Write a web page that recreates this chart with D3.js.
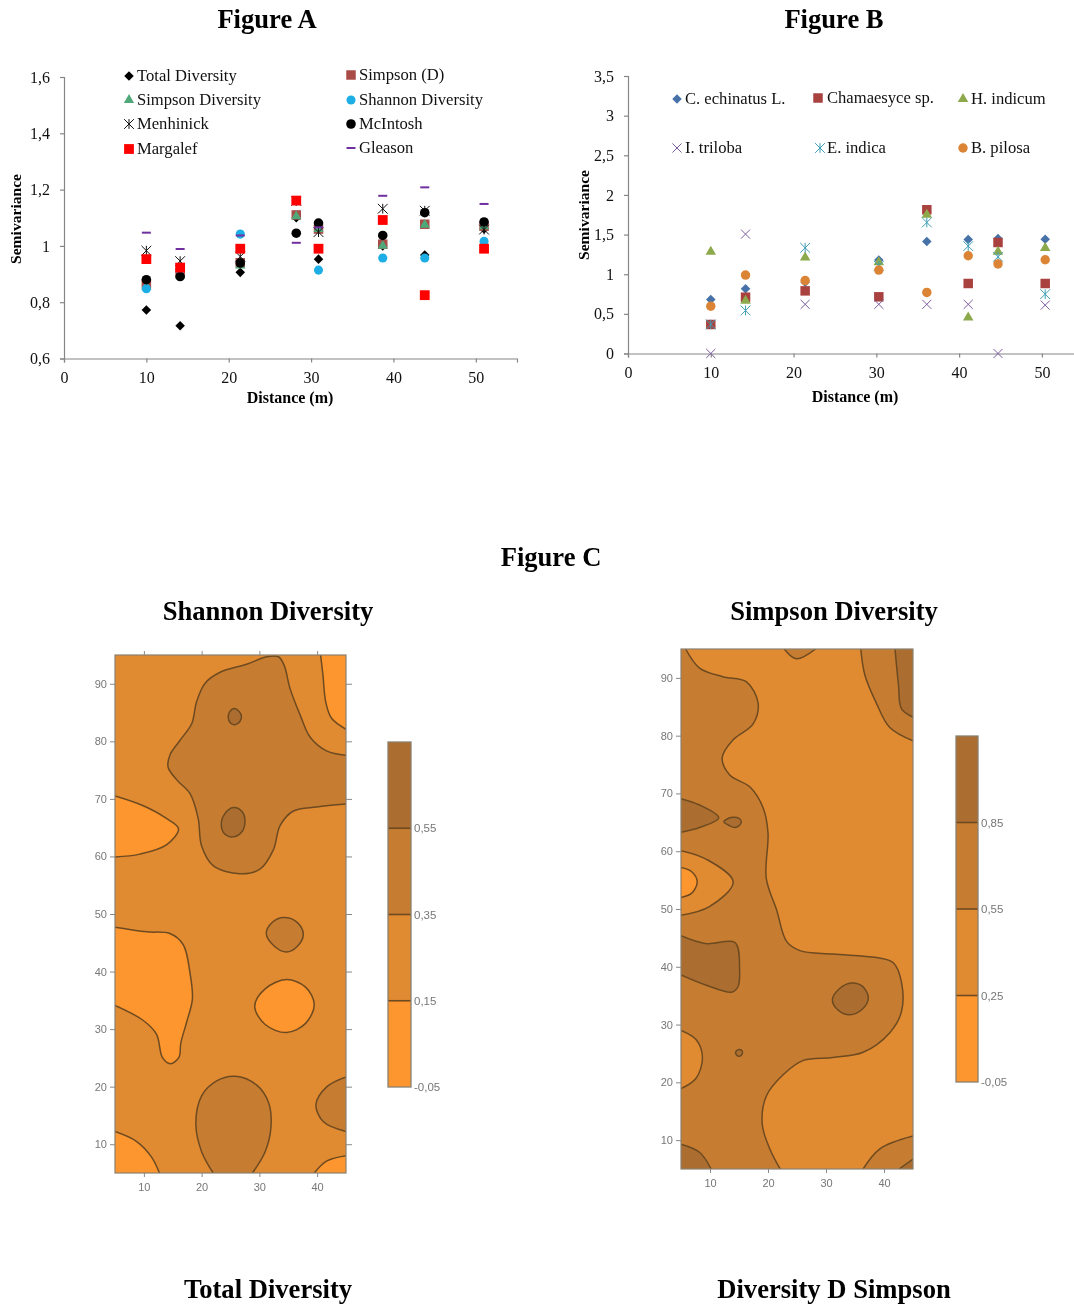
<!DOCTYPE html>
<html><head><meta charset="utf-8">
<script src="https://cdn.jsdelivr.net/npm/d3@7/dist/d3.min.js"></script>
<style>html,body{margin:0;padding:0;background:#fff}svg{display:block;filter:blur(0.55px)}</style>
</head><body><svg id="c" width="1074" height="1304"></svg>
<script>
const distA=[10,14.1,21.4,28.2,30.9,38.7,43.8,51];
const totalDiversity=[0.772,0.716,0.906,1.1,0.953,1.0,0.968,1.06];
const simpsonD=[0.865,0.905,0.94,1.11,1.06,1.006,1.077,1.07];
const simpsonDiversity=[0.855,0.895,0.93,1.105,1.06,1.0,1.075,1.07];
const shannonDiversity=[0.848,0.915,1.042,1.16,0.914,0.957,0.957,1.016];
const menhinick=[0.983,0.946,0.962,1.16,1.049,1.132,1.125,1.058];
const mcintosh=[0.88,0.891,0.939,1.045,1.081,1.037,1.118,1.085];
const margalef=[0.953,0.923,0.99,1.161,0.99,1.092,0.825,0.99];
const gleason=[1.047,0.989,1.037,1.011,1.066,1.178,1.208,1.149];
const distB=[10,14.2,21.4,30.3,36.1,41.1,44.7,50.4];
const echinatus=[0.68,0.816,0.9,1.178,1.413,1.439,1.45,1.44];
const chamaesyce=[0.366,0.71,0.79,0.715,1.813,0.883,1.4,0.883];
const hIndicum=[1.283,0.665,1.21,1.15,1.75,0.454,1.283,1.33];
const iTriloba=[0,1.506,0.62,0.62,0.62,0.62,0,0.61];
const eIndica=[0.366,0.543,1.333,1.106,1.653,1.355,1.22,0.749];
const bPilosa=[0.597,0.989,0.92,1.052,0.77,1.233,1.13,1.182];
const ticksYA=[0.6,0.8,1,1.2,1.4,1.6];
const ticksYB=[0,0.5,1,1.5,2,2.5,3,3.5];
const ticksX=[0,10,20,30,40,50];
const mapTicksX=[10,20,30,40];
const mapTicksY=[10,20,30,40,50,60,70,80,90];
const levelsC1=[-0.05,0.15,0.35,0.55,0.75];
const levelsC2=[-0.05,0.25,0.55,0.85,1.15];
const bandColors=["#fd962f","#e08a32","#c67d32","#ab6e30"];
// contour regions in map units: [band, closed?, vertices, extra corners]
const shannonRegions=[
[0,0,[[40.6,95],[41,91.6],[41.5,86.8],[42.5,84],[45,82.1]],[[45,95]]],
[2,0,[[45,77.6],[41.7,78.3],[38.8,80.7],[37.05,84.6],[35.3,89.2],[34.3,93.2],[33.3,94.7],[31.3,94.7],[27.8,93.4],[23.2,92],[20.6,90.1],[19.1,86.8],[18.3,83.1],[16.2,80.1],[14.5,77.6],[14.2,75.5],[15.7,73.3],[18,70.9],[19.4,66.6],[20,61.8],[22,58.4],[26.6,57],[30.1,57.8],[32.4,61.1],[33.6,65.4],[35.9,67.9],[39.9,68.6],[45,69.1]],[]],
[3,1,[[25.6,85.7],[26.5,85.2],[26.9,84.3],[26.6,83.4],[25.8,82.9],[25,83.2],[24.6,84.2],[24.9,85.2]],[]],
[3,1,[[25.5,68.5],[27,67.8],[27.5,66],[26.9,64.2],[25.4,63.4],[24,63.9],[23.4,65.5],[24,67.4]],[]],
[0,0,[[5,70.5],[9.9,68.8],[13.9,66.6],[16,64.8],[13.9,62],[9.3,60.4],[5,59.9]],[]],
[2,1,[[34.2,49.4],[36.5,48.6],[37.6,46.5],[36.5,44.3],[34.7,43.4],[32.6,44.4],[31.2,46.6],[32.3,48.6]],[]],
[0,1,[[34.7,38.6],[38,37.3],[39.5,34.3],[38,31],[34.7,29.4],[31,30.8],[29.2,34],[31,37]],[]],
[0,0,[[5,47.7],[10.5,46.9],[14.5,46.6],[16.8,44.7],[17.98,39.8],[18.4,35.2],[17.4,31.2],[16.4,27.6],[16.07,25.1],[14.6,24],[13.2,25.1],[12.2,29.1],[9.9,31.5],[5,34.1]],[]],
[2,0,[[22,5],[20,8.7],[19,13.5],[20,18.4],[22.6,21],[25.8,21.8],[29.5,20.3],[31.6,17.2],[32,12.9],[31,8.7],[28.8,5]],[]],
[2,0,[[45,21.7],[41.7,20],[39.8,16.9],[41.1,13.9],[45,12.2]],[]],
[0,0,[[5,12.2],[8.7,10.5],[11.3,7.8],[12.7,5]],[[5,5]]],
[0,0,[[39.5,5],[41.7,7.1],[45,8]],[[45,5]]]
];
const simpsonRegions=[
[2,0,[[5.8,95],[8.2,91.7],[12.2,90.2],[16.3,89.3],[18.3,85.6],[17.4,82],[14,79.3],[12.1,76.2],[13.4,73.2],[16.9,71.1],[19.2,67.4],[20,63.2],[19.7,55.3],[21.5,49.8],[23.2,44.4],[25.5,42.8],[31.2,42.2],[38.7,41.6],[41.6,40.7],[43,37.4],[43,32.2],[41,28.6],[36.4,25.2],[31.2,24.3],[26.1,23.8],[22.6,21.3],[19.7,17.6],[19,12.8],[20.3,8.5],[22.1,5]],[[5,5],[5,95]]],
[2,0,[[22.8,95],[24.9,93.3],[28.2,95]],[]],
[2,0,[[36,95],[36.7,90.5],[38.7,85.6],[41,81.4],[45,79.1]],[[45,95]]],
[3,0,[[41.9,95],[42.5,88.7],[43,84.7],[45,83.2]],[[45,95]]],
[3,0,[[5,69.1],[8.2,68],[11.5,65.8],[8.2,64.1],[5,63.3]],[]],
[3,1,[[12.4,65.1],[13.2,65.7],[14,65.9],[15,65.7],[15.4,65.1],[15,64.4],[14.3,64.1],[13.4,64.4]],[]],
[1,0,[[5,60.1],[9.4,58.6],[14,54.7],[9.9,50.4],[5,48.9]],[]],
[0,0,[[5,57.2],[6.8,56.5],[7.8,54.7],[6.8,52.7],[5,52]],[]],
[3,0,[[5,45.4],[9.4,44],[14.3,44.2],[15.1,39.5],[14.8,36.5],[13.7,35.6],[9.4,36.8],[5,38.6]],[]],
[3,1,[[34.4,37.2],[36.3,36.6],[37.3,34.6],[36.2,32.6],[34.1,31.7],[32.2,32.4],[31.1,34.3],[32.3,36.2]],[]],
[3,1,[[15,25.7],[15.5,25.5],[15.6,25.1],[15.4,24.7],[15,24.5],[14.6,24.7],[14.4,25.1],[14.6,25.5]],[]],
[1,0,[[5,29],[7.6,27.4],[8.7,24.3],[7.6,20.7],[5,18.9]],[]],
[3,0,[[5,9.3],[8.2,7.9],[10.2,5]],[[5,5]]],
[2,0,[[36.4,5],[39.3,8.5],[45,10.7]],[[45,5]]],
[3,0,[[42.6,5],[45,6.7]],[[45,5]]]
];

const svg=d3.select("#c");
const serif="'Liberation Serif','Times New Roman',serif";
const sans="'Liberation Sans',Arial,sans-serif";
const comma=v=>String(v).replace(".",",");
const asterisk={draw(c,s){const r=Math.sqrt(s)/2;c.moveTo(-r,-r);c.lineTo(r,r);c.moveTo(-r,r);c.lineTo(r,-r);c.moveTo(0,-r);c.lineTo(0,r);}};
const dash={draw(c,s){const r=Math.sqrt(s)/2;c.moveTo(-r,0);c.lineTo(r,0);}};
const sym={diamond:[d3.symbolDiamond2,0],square:[d3.symbolSquare,0],triangle:[d3.symbolTriangle,0],circle:[d3.symbolCircle,0],times:[d3.symbolTimes,1],asterisk:[asterisk,1],dash:[dash,1]};

function title(t,x,y,s){svg.append("text").attr("x",x).attr("y",y).attr("text-anchor","middle").attr("font-family",serif).attr("font-weight","bold").attr("font-size",s).attr("fill","#000").text(t);}
function marker(g,k,size,color,sw){const [type,line]=sym[k];
  return g.append("path").attr("d",d3.symbol(type,size)()).attr("fill",line?"none":color).attr("stroke",line?color:"none").attr("stroke-width",line?(sw||1):0);}

function scatter(o){
  const x=d3.scaleLinear().domain(o.xd).range(o.xr), y=d3.scaleLinear().domain(o.yd).range(o.yr);
  const g=svg.append("g");
  const ax=g.append("g").attr("transform",`translate(0,${o.yr[0]})`).call(d3.axisBottom(x).tickValues(ticksX).tickSize(4).tickPadding(9).tickFormat(comma));
  const ay=g.append("g").attr("transform",`translate(${o.xr[0]},0)`).call(d3.axisLeft(y).tickValues(o.yt).tickSize(4).tickPadding(10).tickFormat(comma));
  [ax,ay].forEach(a=>{a.selectAll("path,line").attr("stroke","#868686").attr("stroke-width",1.2);
    a.selectAll("text").attr("font-family",serif).attr("font-size",16).attr("fill","#111");});
  o.series.forEach(s=>{s.values.forEach((v,i)=>{
    marker(g,s.k,s.size,s.color,s.sw).attr("transform",`translate(${x(o.dist[i])},${y(v)})`);});
    const lg=g.append("g").attr("transform",`translate(${s.lx},${s.ly})`);
    marker(lg,s.k,s.size,s.color,s.sw);
    lg.append("text").attr("x",s.tx||o.ldx).attr("y",5).attr("font-family",serif).attr("font-size",16.6).attr("fill","#111").text(s.name);
  });
  g.append("text").attr("x",o.xt[0]).attr("y",o.xt[1]).attr("text-anchor","middle").attr("font-family",serif).attr("font-weight","bold").attr("font-size",16).text("Distance (m)");
  g.append("text").attr("transform",`translate(${o.yl[0]},${o.yl[1]}) rotate(-90)`).attr("text-anchor","middle").attr("font-family",serif).attr("font-weight","bold").attr("font-size",15.6).text("Semivariance");
}

title("Figure A",267,28,26.6);title("Figure B",834,28,26.6);title("Figure C",551,566,26.6);
title("Shannon Diversity",268,620,26.6);title("Simpson Diversity",834,620,26.6);
title("Total Diversity",268,1298,26.6);title("Diversity D Simpson",834,1298,26.6);

scatter({dist:distA,xd:[0,55],xr:[64,517],yd:[0.6,1.6],yr:[358.5,77],yt:ticksYA,ldx:8,xt:[290,403],yl:[21,219],series:[
{name:"Total Diversity",values:totalDiversity,k:"diamond",size:58,color:"#000",lx:129,ly:76},
{name:"Simpson (D)",values:simpsonD,k:"square",size:90,color:"#a94b47",lx:351,ly:75},
{name:"Simpson Diversity",values:simpsonDiversity,k:"triangle",size:45,color:"#4fa878",lx:129,ly:100},
{name:"Shannon Diversity",values:shannonDiversity,k:"circle",size:65,color:"#1caee4",lx:351,ly:100},
{name:"Menhinick",values:menhinick,k:"asterisk",size:95,color:"#111",lx:129,ly:124},
{name:"McIntosh",values:mcintosh,k:"circle",size:72,color:"#000",lx:351,ly:124},
{name:"Margalef",values:margalef,k:"square",size:96,color:"#ff0000",lx:129,ly:149},
{name:"Gleason",values:gleason,k:"dash",size:81,color:"#7030a0",sw:2,lx:351,ly:148}]});

scatter({dist:distB,xd:[0,54],xr:[628,1075],yd:[0,3.5],yr:[353.5,76],yt:ticksYB,ldx:8,xt:[855,402],yl:[589,215],series:[
{name:"C. echinatus L.",values:echinatus,k:"diamond",size:58,color:"#4672a8",lx:677,ly:99},
{name:"Chamaesyce sp.",values:chamaesyce,k:"square",size:90,color:"#a9413f",lx:818,ly:98,tx:9},
{name:"H. indicum",values:hIndicum,k:"triangle",size:48,color:"#8ca94b",lx:963,ly:99},
{name:"I. triloba",values:iTriloba,k:"times",size:56,color:"#7a5c9e",lx:677,ly:148},
{name:"E. indica",values:eIndica,k:"asterisk",size:95,color:"#3e9eb5",lx:820,ly:148,tx:7},
{name:"B. pilosa",values:bPilosa,k:"circle",size:70,color:"#dc8436",lx:963,ly:148}]});

function contourMap(o,id){
  const x=d3.scaleLinear().domain([5,45]).range(o.xr), y=d3.scaleLinear().domain([5,95]).range(o.yr);
  const g=svg.append("g");
  g.append("clipPath").attr("id",id).append("rect").attr("x",o.xr[0]).attr("y",o.yr[1]).attr("width",o.xr[1]-o.xr[0]).attr("height",o.yr[0]-o.yr[1]);
  const inner=g.append("g").attr("clip-path",`url(#${id})`);
  inner.append("rect").attr("x",o.xr[0]).attr("y",o.yr[1]).attr("width",o.xr[1]-o.xr[0]).attr("height",o.yr[0]-o.yr[1]).attr("fill",bandColors[1]);
  const open=d3.line().x(d=>x(d[0])).y(d=>y(d[1])).curve(d3.curveCatmullRom.alpha(0.5));
  const closed=d3.line().x(d=>x(d[0])).y(d=>y(d[1])).curve(d3.curveCatmullRomClosed.alpha(0.5));
  const sc="#6e4a20", sw=1.5;
  o.regions.forEach(([band,isClosed,pts,corners])=>{
    if(isClosed){inner.append("path").attr("d",closed(pts)).attr("fill",bandColors[band]).attr("stroke",sc).attr("stroke-width",sw);}
    else{
      const tail=corners.map(c=>`L${x(c[0])},${y(c[1])}`).join("");
      inner.append("path").attr("d",open(pts)+tail+"Z").attr("fill",bandColors[band]);
      inner.append("path").attr("d",open(pts)).attr("fill","none").attr("stroke",sc).attr("stroke-width",sw);
    }
  });
  g.append("rect").attr("x",o.xr[0]).attr("y",o.yr[1]).attr("width",o.xr[1]-o.xr[0]).attr("height",o.yr[0]-o.yr[1]).attr("fill","none").attr("stroke","#8a8070").attr("stroke-width",1.2);
  const style=a=>{a.select(".domain").remove();a.selectAll("line").attr("stroke","#888");a.selectAll("text").attr("font-family",sans).attr("font-size",11).attr("fill","#777");};
  g.append("g").attr("transform",`translate(0,${o.yr[0]})`).call(d3.axisBottom(x).tickValues(mapTicksX).tickSize(4).tickPadding(6)).call(style);
  g.append("g").attr("transform",`translate(${o.xr[0]},0)`).call(d3.axisLeft(y).tickValues(mapTicksY).tickSize(5).tickPadding(3)).call(style);
  if(o.frame){
    g.append("g").attr("transform",`translate(0,${o.yr[1]})`).call(d3.axisTop(x).tickValues(mapTicksX).tickSize(4).tickFormat("")).call(style);
    g.append("g").attr("transform",`translate(${o.xr[1]},0)`).call(d3.axisRight(y).tickValues(mapTicksY).tickSize(6).tickFormat("")).call(style);
  }
  // colour bar
  const b=d3.scaleLinear().domain([o.levels[0],o.levels[4]]).range(o.by);
  const bg=g.append("g");
  bandColors.forEach((c,i)=>{bg.append("rect").attr("x",o.bx[0]).attr("width",o.bx[1]-o.bx[0]).attr("y",b(o.levels[i+1])).attr("height",b(o.levels[i])-b(o.levels[i+1])).attr("fill",c);});
  o.levels.slice(1,4).forEach(l=>{bg.append("line").attr("x1",o.bx[0]).attr("x2",o.bx[1]).attr("y1",b(l)).attr("y2",b(l)).attr("stroke",sc).attr("stroke-width",1.6);});
  bg.append("rect").attr("x",o.bx[0]).attr("width",o.bx[1]-o.bx[0]).attr("y",o.by[1]).attr("height",o.by[0]-o.by[1]).attr("fill","none").attr("stroke","#8a8070").attr("stroke-width",1.3);
  o.levels.slice(0,4).forEach(l=>{bg.append("text").attr("x",o.bx[1]+3).attr("y",b(l)+4).attr("font-family",sans).attr("font-size",11.5).attr("fill","#777").text(comma(l));});
}
contourMap({xr:[115,346],yr:[1173,655],regions:shannonRegions,frame:true,levels:levelsC1,by:[1087,742],bx:[388,411]},"m1");
contourMap({xr:[681,913],yr:[1169,649],regions:simpsonRegions,frame:false,levels:levelsC2,by:[1082,736],bx:[956,978]},"m2");
</script></body></html>
